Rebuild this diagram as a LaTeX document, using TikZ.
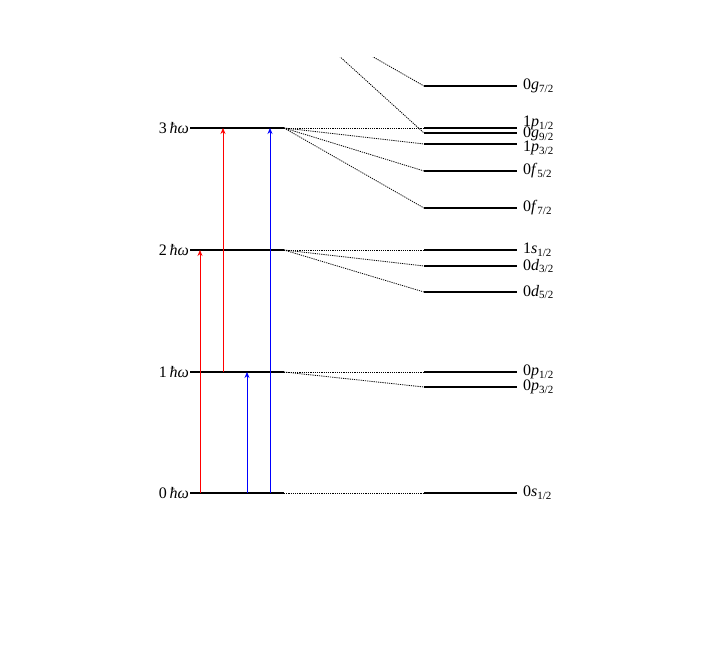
\documentclass[tikz,border=0pt]{standalone}
\usepackage{fontspec}
\setmainfont{Liberation Serif}
\usetikzlibrary{arrows.meta}
\newcommand\lvl[3]{#1\textit{#2}\raisebox{-0.4ex}{\fontsize{11}{12}\selectfont #3}}
\newcommand\hw[1]{#1\,\textit{ħω}}
\tikzset{
  level/.style={line width=1.6pt},
  conn/.style={line width=0.8pt, dash pattern=on 1.2pt off 1pt},
  trans/.style={line width=0.8pt, -{Stealth[length=6pt,width=5pt]}},
  llab/.style={anchor=east, inner sep=1pt, font=\fontsize{16}{18}\selectfont},
  rlab/.style={anchor=west, inner sep=1pt, font=\fontsize{16}{18}\selectfont},
}
\begin{document}
\begin{tikzpicture}[x=1pt,y=-1pt]
\useasboundingbox (0,0) rectangle (706,647);
% left oscillator levels
\foreach \n/\y in {0/493,1/372,2/250,3/128}{
  \coordinate (H\n a) at (190,\y);
  \coordinate (H\n b) at (284,\y);
  \draw[level] (H\n a) -- (H\n b);
  \node[llab] (HL\n) at (H\n a) {\hw{\n}};
}
\coordinate (H4b) at (284,6);
% right levels
\foreach \nm/\y/\ly/\a/\b/\c in {
  s0/493/493/0/s/1\slash 2,
  pa/372/372/0/p/1\slash 2,
  pb/387/387/0/p/3\slash 2,
  s1/250/250/1/s/1\slash 2,
  da/266/266/0/d/3\slash 2,
  db/292/292/0/d/5\slash 2,
  qa/128/123/1/p/1\slash 2,
  ga/133/134/0/g/9\slash 2,
  qb/144/148/1/p/3\slash 2,
  fa/171/171/0/f/5\slash 2,
  fb/208/208/0/f/7\slash 2,
  gb/86/86/0/g/7\slash 2}{
  \coordinate (\nm a) at (424,\y);
  \coordinate (\nm b) at (517,\y);
  \draw[level] (\nm a) -- (\nm b);
  \node[rlab] (\nm L) at (522,\ly) {\lvl{\a}{\b}{\c}};
}
% connectors
\draw[conn] (H0b) -- (s0a);
\draw[conn] (H1b) -- (paa);
\draw[conn] (H1b) -- (pba);
\draw[conn] (H2b) -- (s1a);
\draw[conn] (H2b) -- (daa);
\draw[conn] (H2b) -- (dba);
\draw[conn] (H3b) -- (qaa);
\draw[conn] (H3b) -- (qba);
\draw[conn] (H3b) -- (faa);
\draw[conn] (H3b) -- (fba);
\begin{scope}
  \clip (280,58) rectangle (430,200);
  \draw[conn] (H4b) -- (gaa);
  \draw[conn] (H4b) -- (gba);
\end{scope}
% transitions
\draw[trans, red]  (H0a -| 200,0) -- (H2a -| 200,0);
\draw[trans, red]  (H1a -| 223,0) -- (H3a -| 223,0);
\draw[trans, blue] (H0a -| 247,0) -- (H1a -| 247,0);
\draw[trans, blue] (H0a -| 270,0) -- (H3a -| 270,0);
\end{tikzpicture}
\end{document}
